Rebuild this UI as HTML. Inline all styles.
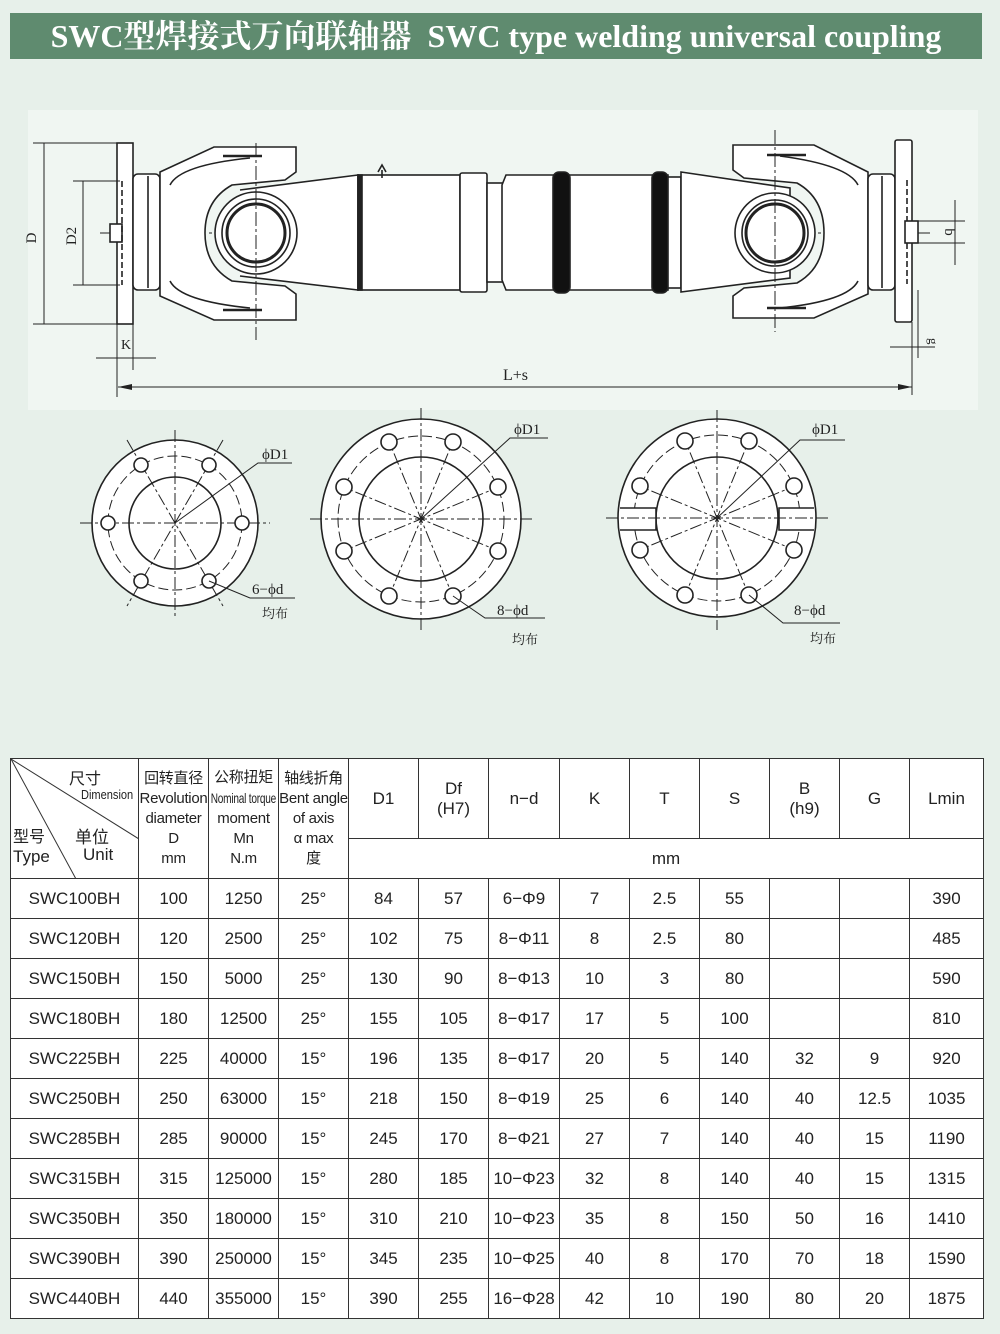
<!DOCTYPE html>
<html><head><meta charset="utf-8"><style>
html,body{margin:0;padding:0}
body{width:1000px;height:1334px;background:#e7f0ea;position:relative;overflow:hidden;font-family:"Liberation Sans","Noto Sans CJK SC",sans-serif}
.title{position:absolute;left:10px;top:13px;width:972px;height:46px;background:#5f8b6f;color:#fff;font-family:"Liberation Serif","Noto Serif CJK SC",serif;font-weight:bold;font-size:32px;line-height:46px;text-align:center;white-space:nowrap}
svg.d{position:absolute;left:0;top:0}
table{position:absolute;left:10px;top:758px;border-collapse:collapse;table-layout:fixed;background:#fff}
td{border:1.5px solid #333;text-align:center;font-size:17px;color:#222;padding:0;height:39px;white-space:nowrap;overflow:hidden}
.h{font-size:15px;line-height:20px;letter-spacing:-0.3px}
.nt{display:inline-block;font-size:14px;transform:scaleX(.72);margin:0 -20px}
</style></head><body>
<div class="title">SWC型焊接式万向联轴器&nbsp; SWC type welding universal coupling</div>

<svg class="d" width="1000" height="700" viewBox="0 0 1000 700" fill="none" stroke="#222" stroke-width="1.6" font-family="Liberation Serif,serif">
<rect x="28" y="110" width="950" height="300" fill="#f0f6f2" stroke="none"/>
<line x1="100" y1="233" x2="930" y2="233" stroke-dasharray="18,4,3,4" stroke-width="1"/>
<rect x="117" y="143" width="16" height="181" fill="#fff"/>
<rect x="110" y="224" width="12" height="18" fill="#fff"/>
<line x1="122" y1="181" x2="122" y2="285" stroke-dasharray="6,3"/>
<line x1="33" y1="143" x2="117" y2="143" stroke-width="1"/><line x1="33" y1="324" x2="117" y2="324" stroke-width="1"/>
<line x1="44" y1="143" x2="44" y2="324" stroke-width="1"/>
<line x1="73" y1="181" x2="120" y2="181" stroke-width="1"/><line x1="73" y1="285" x2="120" y2="285" stroke-width="1"/>
<line x1="83" y1="181" x2="83" y2="285" stroke-width="1"/>
<text x="36" y="238" font-size="15" fill="#222" stroke="none" transform="rotate(-90 36 238)" text-anchor="middle">D</text>
<text x="76" y="236" font-size="15" fill="#222" stroke="none" transform="rotate(-90 76 236)" text-anchor="middle">D2</text>
<rect x="133" y="174" width="27" height="116" rx="5" fill="#fff"/>
<line x1="148" y1="176" x2="148" y2="288"/>
<path d="M160 172 L214 147 L296 147 L296 172 L285 180 L232 185 Q205 200 205 233 Q205 266 232 281 L285 286 L296 294 L296 320 L214 320 L160 296 Z" fill="#fff"/>
<path d="M170 185 Q180 165 250 158 M170 281 Q180 301 250 308"/>
<line x1="223" y1="156" x2="262" y2="156" stroke-width="2.5"/><line x1="223" y1="310" x2="262" y2="310" stroke-width="2.5"/>
<path d="M240 190 L358 175 L358 290 L240 276" fill="#fff"/>
<circle cx="256" cy="233" r="41" fill="#fff"/>
<circle cx="256" cy="233" r="34"/>
<circle cx="256" cy="233" r="29" stroke-width="3"/>
<line x1="256" y1="143" x2="256" y2="340" stroke-width="1" stroke-dasharray="14,3,3,3"/>
<rect x="358" y="175" width="102" height="115" fill="#fff"/>
<rect x="358" y="175" width="4" height="115" fill="#222"/>
<path d="M382 178 L382 170 M378 172 L382 165 L386 172"/>
<rect x="460" y="173" width="27" height="119" rx="2" fill="#fff"/>
<rect x="487" y="183" width="17" height="99" fill="#fff"/>
<path d="M506 175 L668 175 L668 290 L506 290 L502 280 L502 185 Z" fill="#fff"/>
<rect x="553" y="172" width="17" height="121" rx="6" fill="#111"/>
<rect x="652" y="172" width="16" height="121" rx="6" fill="#111"/>
<rect x="668" y="177" width="13" height="111" fill="#fff"/>
<path d="M681 172 L790 188 L790 278 L681 292 Z" fill="#fff"/>
<path d="M868 172 L814 145 L733 145 L733 170 L744 178 L797 183 Q824 198 824 233 Q824 268 797 283 L744 288 L733 296 L733 318 L814 318 L868 294 Z" fill="#fff"/>
<path d="M858 185 Q848 165 780 156 M858 281 Q848 301 780 308"/>
<line x1="767" y1="155" x2="806" y2="155" stroke-width="2.5"/><line x1="767" y1="308" x2="806" y2="308" stroke-width="2.5"/>
<circle cx="775" cy="233" r="40" fill="#fff"/>
<circle cx="775" cy="233" r="33"/>
<circle cx="775" cy="233" r="29" stroke-width="3"/>
<line x1="775" y1="130" x2="775" y2="332" stroke-width="1" stroke-dasharray="14,3,3,3"/>
<rect x="868" y="174" width="27" height="116" rx="5" fill="#fff"/>
<line x1="882" y1="176" x2="882" y2="288"/>
<rect x="895" y="140" width="17" height="182" rx="2" fill="#fff"/>
<line x1="907" y1="180" x2="907" y2="284" stroke-dasharray="6,3"/>
<rect x="905" y="221" width="13" height="22" fill="#fff"/>
<line x1="918" y1="221" x2="965" y2="221" stroke-width="1"/><line x1="918" y1="243" x2="965" y2="243" stroke-width="1"/>
<line x1="955" y1="200" x2="955" y2="265" stroke-width="1"/>
<text x="945" y="232" font-size="15" fill="#222" stroke="none" transform="rotate(90 945 232)" text-anchor="middle">b</text>
<line x1="912" y1="322" x2="912" y2="395" stroke-width="1"/><line x1="918" y1="290" x2="918" y2="358" stroke-width="1"/>
<line x1="890" y1="347" x2="935" y2="347" stroke-width="1"/>
<text x="929" y="338" font-size="13" fill="#222" stroke="none" transform="rotate(90 929 338)">g</text>
<line x1="117" y1="324" x2="117" y2="397" stroke-width="1"/><line x1="133" y1="324" x2="133" y2="370" stroke-width="1"/>
<line x1="96" y1="358" x2="156" y2="358" stroke-width="1"/>
<text x="121" y="349" font-size="14" fill="#222" stroke="none">K</text>
<line x1="118" y1="387" x2="912" y2="387" stroke-width="1"/>
<path d="M118 387 L132 384 L132 390 Z M912 387 L898 384 L898 390 Z" fill="#222" stroke="none"/>
<text x="503" y="380" font-size="16" fill="#222" stroke="none">L+s</text>

<g stroke-width="1.6">
<circle cx="175" cy="523" r="83" fill="#fff"/>
<circle cx="175" cy="523" r="67" stroke-dasharray="10,4" stroke-width="1"/>
<circle cx="175" cy="523" r="46"/>
<g stroke-width="1" stroke-dasharray="12,3,3,3">
<line x1="80" y1="523" x2="270" y2="523"/><line x1="175" y1="430" x2="175" y2="616"/>
<line x1="127" y1="440" x2="223" y2="606"/><line x1="223" y1="440" x2="127" y2="606"/>
</g>
<g fill="#fff"><circle cx="108" cy="523" r="7"/><circle cx="242" cy="523" r="7"/><circle cx="141" cy="465" r="7"/><circle cx="209" cy="465" r="7"/><circle cx="141" cy="581" r="7"/><circle cx="209" cy="581" r="7"/></g>
<path d="M175 523 L258 463 L292 463 M209 581 L250 598 L295 598" stroke-width="1"/>
</g>
<text x="262" y="459" font-size="15" fill="#222" stroke="none">ϕD1</text>
<text x="252" y="594" font-size="15" fill="#222" stroke="none">6−ϕd</text>
<text x="262" y="618" font-size="13" fill="#222" stroke="none" font-family="Noto Serif CJK SC,serif">均布</text>

<circle cx="421" cy="519" r="100" fill="#fff"/>
<circle cx="421" cy="519" r="83" stroke-dasharray="10,4" stroke-width="1"/>
<circle cx="421" cy="519" r="62"/>
<g stroke-width="1" stroke-dasharray="12,3,3,3">
<line x1="310" y1="519" x2="532" y2="519"/><line x1="421" y1="408" x2="421" y2="630"/>
<line x1="336" y1="484" x2="506" y2="554"/><line x1="336" y1="554" x2="506" y2="484"/>
<line x1="386" y1="434" x2="456" y2="604"/><line x1="456" y1="434" x2="386" y2="604"/>
</g>
<g fill="#fff"><circle cx="344" cy="487" r="8"/><circle cx="498" cy="487" r="8"/><circle cx="344" cy="551" r="8"/><circle cx="498" cy="551" r="8"/><circle cx="389" cy="442" r="8"/><circle cx="453" cy="442" r="8"/><circle cx="389" cy="596" r="8"/><circle cx="453" cy="596" r="8"/></g>
<path d="M421 519 L510 438 L548 438 M453 596 L485 618 L545 618" stroke-width="1"/>
<text x="514" y="434" font-size="15" fill="#222" stroke="none">ϕD1</text>
<text x="497" y="615" font-size="15" fill="#222" stroke="none">8−ϕd</text>
<text x="512" y="644" font-size="13" fill="#222" stroke="none" font-family="Noto Serif CJK SC,serif">均布</text>

<circle cx="717" cy="518" r="99" fill="#fff"/>
<circle cx="717" cy="518" r="83" stroke-dasharray="10,4" stroke-width="1"/>
<circle cx="717" cy="518" r="61"/>
<path d="M620 508 L656 508 L656 530 L620 530 M814 508 L779 508 L779 530 L814 530" fill="#fff"/>
<g stroke-width="1" stroke-dasharray="12,3,3,3">
<line x1="606" y1="518" x2="828" y2="518"/><line x1="717" y1="410" x2="717" y2="630"/>
<line x1="632" y1="483" x2="802" y2="553"/><line x1="632" y1="553" x2="802" y2="483"/>
<line x1="682" y1="433" x2="752" y2="603"/><line x1="752" y1="433" x2="682" y2="603"/>
</g>
<g fill="#fff"><circle cx="640" cy="486" r="8"/><circle cx="794" cy="486" r="8"/><circle cx="640" cy="550" r="8"/><circle cx="794" cy="550" r="8"/><circle cx="685" cy="441" r="8"/><circle cx="749" cy="441" r="8"/><circle cx="685" cy="595" r="8"/><circle cx="749" cy="595" r="8"/></g>
<path d="M717 518 L800 440 L845 440 M749 595 L783 623 L840 623" stroke-width="1"/>
<text x="812" y="434" font-size="15" fill="#222" stroke="none">ϕD1</text>
<text x="794" y="615" font-size="15" fill="#222" stroke="none">8−ϕd</text>
<text x="810" y="643" font-size="13" fill="#222" stroke="none" font-family="Noto Serif CJK SC,serif">均布</text>
</svg>

<table>
<colgroup><col style="width:128px"><col style="width:70px"><col style="width:70px"><col style="width:70px"><col style="width:70px"><col style="width:70px"><col style="width:71px"><col style="width:70px"><col style="width:70px"><col style="width:70px"><col style="width:70px"><col style="width:70px"><col style="width:74px"></colgroup>
<tr style="height:80px">
<td rowspan="2" style="position:relative;height:119px;text-align:left">
<svg width="128" height="120" style="position:absolute;left:0;top:0" stroke="#333" stroke-width="1"><line x1="0" y1="0" x2="128" y2="80"/><line x1="0" y1="0" x2="65" y2="120"/></svg>
<div style="position:absolute;left:58px;top:6px;font-size:16px">尺寸</div>
<div style="position:absolute;left:70px;top:28px;font-size:13px;transform:scaleX(.85);transform-origin:left">Dimension</div>
<div style="position:absolute;left:2px;top:64px;font-size:16px">型号</div>
<div style="position:absolute;left:64px;top:64px;font-size:17px">单位</div>
<div style="position:absolute;left:2px;top:88px;font-size:17px">Type</div>
<div style="position:absolute;left:72px;top:86px;font-size:17px">Unit</div>
</td>
<td rowspan="2" class="h">回转直径<br>Revolution<br>diameter<br>D<br>mm</td>
<td rowspan="2" class="h">公称扭矩<br><span class="nt">Nominal torque</span><br>moment<br>Mn<br>N.m</td>
<td rowspan="2" class="h">轴线折角<br>Bent angle<br>of axis<br>α max<br>度</td>
<td>D1</td><td>Df<br>(H7)</td><td>n−d</td><td>K</td><td>T</td><td>S</td><td>B<br>(h9)</td><td>G</td><td>Lmin</td></tr>
<tr><td colspan="9">mm</td></tr>
<tr><td>SWC100BH</td><td>100</td><td>1250</td><td>25°</td><td>84</td><td>57</td><td>6−Φ9</td><td>7</td><td>2.5</td><td>55</td><td></td><td></td><td>390</td></tr>
<tr><td>SWC120BH</td><td>120</td><td>2500</td><td>25°</td><td>102</td><td>75</td><td>8−Φ11</td><td>8</td><td>2.5</td><td>80</td><td></td><td></td><td>485</td></tr>
<tr><td>SWC150BH</td><td>150</td><td>5000</td><td>25°</td><td>130</td><td>90</td><td>8−Φ13</td><td>10</td><td>3</td><td>80</td><td></td><td></td><td>590</td></tr>
<tr><td>SWC180BH</td><td>180</td><td>12500</td><td>25°</td><td>155</td><td>105</td><td>8−Φ17</td><td>17</td><td>5</td><td>100</td><td></td><td></td><td>810</td></tr>
<tr><td>SWC225BH</td><td>225</td><td>40000</td><td>15°</td><td>196</td><td>135</td><td>8−Φ17</td><td>20</td><td>5</td><td>140</td><td>32</td><td>9</td><td>920</td></tr>
<tr><td>SWC250BH</td><td>250</td><td>63000</td><td>15°</td><td>218</td><td>150</td><td>8−Φ19</td><td>25</td><td>6</td><td>140</td><td>40</td><td>12.5</td><td>1035</td></tr>
<tr><td>SWC285BH</td><td>285</td><td>90000</td><td>15°</td><td>245</td><td>170</td><td>8−Φ21</td><td>27</td><td>7</td><td>140</td><td>40</td><td>15</td><td>1190</td></tr>
<tr><td>SWC315BH</td><td>315</td><td>125000</td><td>15°</td><td>280</td><td>185</td><td>10−Φ23</td><td>32</td><td>8</td><td>140</td><td>40</td><td>15</td><td>1315</td></tr>
<tr><td>SWC350BH</td><td>350</td><td>180000</td><td>15°</td><td>310</td><td>210</td><td>10−Φ23</td><td>35</td><td>8</td><td>150</td><td>50</td><td>16</td><td>1410</td></tr>
<tr><td>SWC390BH</td><td>390</td><td>250000</td><td>15°</td><td>345</td><td>235</td><td>10−Φ25</td><td>40</td><td>8</td><td>170</td><td>70</td><td>18</td><td>1590</td></tr>
<tr><td>SWC440BH</td><td>440</td><td>355000</td><td>15°</td><td>390</td><td>255</td><td>16−Φ28</td><td>42</td><td>10</td><td>190</td><td>80</td><td>20</td><td>1875</td></tr>
</table>
</body></html>
